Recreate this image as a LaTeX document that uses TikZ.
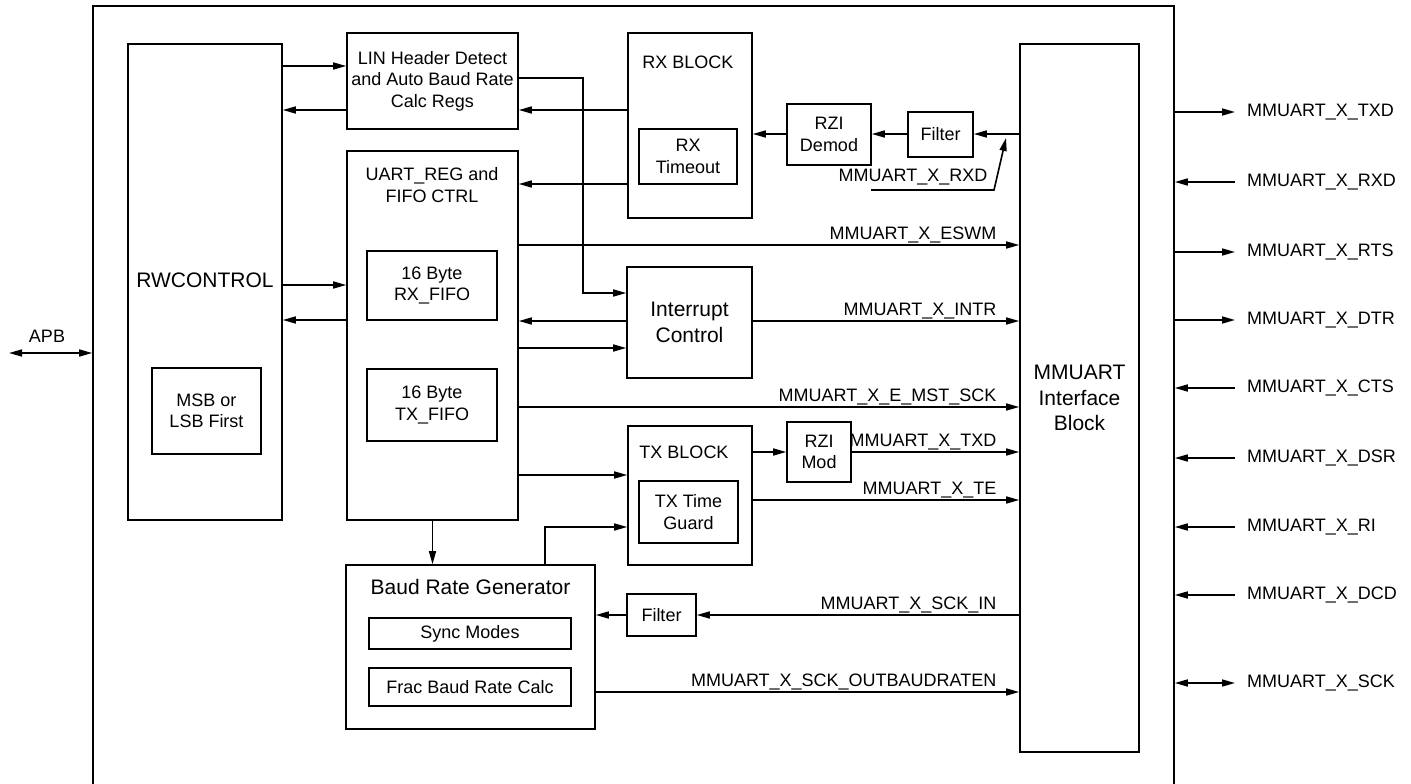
\documentclass[tikz,border=0pt]{standalone}
\usepackage{fontspec}
\setmainfont{Liberation Sans}
\usetikzlibrary{arrows.meta}

\begin{document}
\begin{tikzpicture}[x=1pt, y=-1pt, >={Triangle[length=13pt,width=7pt]},
  every node/.style={font=\fontsize{18}{21.5}\selectfont},
  big/.style={font=\fontsize{21}{25.5}\selectfont},
  blk/.style={draw, line width=1.6pt, inner sep=0pt, align=center},
  sig/.style={line width=1.6pt, ->},
  siglbl/.style={anchor=base east, xshift=-22pt, yshift=6pt, inner sep=0pt}]
  \useasboundingbox (0,0) rectangle (1411,784);

  % Outer chip boundary
  \node[blk, minimum width=1081, minimum height=794] (chip) at (633.5,403) {};

  % Register side
  \node[blk, big, minimum width=154, minimum height=476] (rwctrl) at (205,282) {};
  \node[big] (rwtitle) at (205,280) {RWCONTROL};
  \node[blk, minimum width=109, minimum height=86] (msbfirst) at (206.5,411) {MSB or\\LSB First};

  \node[blk, minimum width=171, minimum height=96] (linhdr) at (432.5,81) {LIN Header Detect\\and Auto Baud Rate\\Calc Regs};
  \node[blk, minimum width=171, minimum height=369] (uartreg) at (432.5,335.5) {};
  \node[align=center] (uarttitle) at (432,185) {UART\_REG and\\FIFO CTRL};
  \node[blk, minimum width=130, minimum height=69] (rxfifo) at (432,285.5) {16 Byte\\RX\_FIFO};
  \node[blk, minimum width=130, minimum height=72] (txfifo) at (432,405) {16 Byte\\TX\_FIFO};

  % RX path
  \node[blk, minimum width=124, minimum height=185] (rxblock) at (690,125.5) {};
  \node (rxtitle) at (688,62) {RX BLOCK};
  \node[blk, minimum width=98, minimum height=55] (rxtimeout) at (688,156.5) {RX\\Timeout};
  \node[blk, minimum width=84, minimum height=61] (rzidemod) at (829,134.5) {RZI\\Demod};
  \node[blk, minimum width=65, minimum height=45] (rxfilter) at (940.5,134.5) {Filter};

  % Interrupt
  \node[blk, big, minimum width=125, minimum height=111] (intctrl) at (689.5,322.5) {Interrupt\\Control};

  % TX path
  \node[blk, minimum width=124, minimum height=139] (txblock) at (690,495.5) {};
  \node (txtitle) at (684,452) {TX BLOCK};
  \node[blk, minimum width=99, minimum height=62] (txguard) at (688.5,512) {TX Time\\Guard};
  \node[blk, minimum width=64, minimum height=60] (rzimod) at (819,452) {RZI\\Mod};

  % Baud rate
  \node[blk, minimum width=249, minimum height=164] (baudgen) at (470.5,647) {};
  \node[big] (baudtitle) at (470.5,587) {Baud Rate Generator};
  \node[blk, minimum width=202, minimum height=31] (syncmodes) at (470,633.5) {Sync Modes};
  \node[blk, minimum width=202, minimum height=38] (fracbaud) at (470,687) {Frac Baud Rate Calc};
  \node[blk, minimum width=69, minimum height=42] (sckfilter) at (661.5,615) {Filter};

  % Interface block
  \node[blk, big, minimum width=119, minimum height=708] (mmuartif) at (1079.5,398) {MMUART\\Interface\\Block};

  % Register connections
  \draw[sig] (rwctrl.east |- 0,66) -- (linhdr.west |- 0,66);
  \draw[sig] (linhdr.west |- 0,110) -- (rwctrl.east |- 0,110);
  \draw[sig] (rwctrl.east |- 0,285) -- (uartreg.west |- 0,285);
  \draw[sig] (uartreg.west |- 0,320) -- (rwctrl.east |- 0,320);
  \draw[sig] (rxblock.west |- 0,110) -- (linhdr.east |- 0,110);
  \draw[sig] (rxblock.west |- 0,184) -- (uartreg.east |- 0,184);
  \draw[sig] (linhdr.east |- 0,78) -- ++(64,0) |- (intctrl.west |- 0,293);
  \draw[sig] (intctrl.west |- 0,321) -- (uartreg.east |- 0,321);
  \draw[sig] (uartreg.east |- 0,348) -- (intctrl.west |- 0,348);
  \draw[sig] (uartreg.east |- 0,475) -- (txblock.west |- 0,475);
  \draw[sig] (uartreg.south) -- (baudgen.north -| uartreg.south);
  \draw[sig] (baudgen.north -| 545,0) |- (txblock.west |- 0,527);
  \draw[sig] (txblock.east |- rzimod.west) -- (rzimod.west);
  \draw[sig] (sckfilter.west) -- (baudgen.east |- sckfilter.west);

  % RX input chain
  \draw[sig] (mmuartif.west |- 0,134) -- (rxfilter.east |- 0,134);
  \draw[sig] (rxfilter.west |- 0,134) -- (rzidemod.east |- 0,134);
  \draw[sig] (rzidemod.west |- 0,134) -- (rxblock.east |- 0,134);
  \coordinate (rxdtail) at (871,190);
  \coordinate (rxdbend) at (994,190);
  \coordinate (rxdtip) at (1006,138);
  \draw[sig] (rxdtail) -- (rxdbend) -- (rxdtip);
  \node (rxdlbl) at (913,177) {MMUART\_X\_RXD};

  % Signals into the interface block
  \draw[sig] (uartreg.east |- 0,245) -- (mmuartif.west |- 0,245)
    node[pos=1, siglbl] (eswmlbl) {MMUART\_X\_ESWM};
  \draw[sig] (intctrl.east |- 0,321) -- (mmuartif.west |- 0,321)
    node[pos=1, siglbl] (intrlbl) {MMUART\_X\_INTR};
  \draw[sig] (uartreg.east |- 0,407) -- (mmuartif.west |- 0,407)
    node[pos=1, siglbl] (mstlbl) {MMUART\_X\_E\_MST\_SCK};
  \draw[sig] (rzimod.east) -- (mmuartif.west |- rzimod.east)
    node[pos=1, siglbl] (txdlbl) {MMUART\_X\_TXD};
  \draw[sig] (txblock.east |- 0,500) -- (mmuartif.west |- 0,500)
    node[pos=1, siglbl] (telbl) {MMUART\_X\_TE};
  \draw[sig] (mmuartif.west |- sckfilter.east) -- (sckfilter.east)
    node[pos=0, siglbl] (scklbl) {MMUART\_X\_SCK\_IN};
  \draw[sig] (baudgen.east |- 0,692) -- (mmuartif.west |- 0,692)
    node[pos=1, siglbl] (outlbl) {MMUART\_X\_SCK\_OUTBAUDRATEN};

  % APB port
  \coordinate (apbend) at (9,353);
  \draw[sig, <->] (apbend) -- (chip.west |- apbend);
  \node (apblbl) at (47,336) {APB};

  % External pins
  \foreach \yy/\dir/\nm in {112/->/TXD, 182/<-/RXD, 252/->/RTS, 320/->/DTR,
      388/<-/CTS, 458/<-/DSR, 527/<-/RI, 595/<-/DCD, 683/<->/SCK} {
    \coordinate (pin\nm) at (1235,\yy);
    \draw[line width=1.6pt, \dir] (chip.east |- pin\nm) -- (pin\nm);
    \node[anchor=west, inner sep=0pt] (lbl\nm) at (1247,\yy) {MMUART\_X\_\nm};
  }
\end{tikzpicture}
\end{document}
